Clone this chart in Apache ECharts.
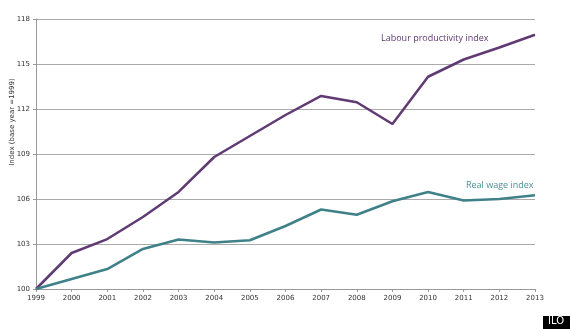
<!DOCTYPE html>
<html><head><meta charset="utf-8">
<script src="https://cdn.jsdelivr.net/npm/echarts@6/dist/echarts.min.js"></script>
<style>html,body{margin:0;padding:0;background:#fff}#c{width:570px;height:329px}</style>
</head><body><div id="c"></div>
<script>
const years = ['1999','2000','2001','2002','2003','2004','2005','2006','2007','2008','2009','2010','2011','2012','2013'];
const labourProductivity = [100, 102.4, 103.33, 104.8, 106.47, 108.8, 110.2, 111.6, 112.87, 112.45, 111.0, 114.15, 115.3, 116.1, 116.95];
const realWage = [100, 100.67, 101.33, 102.67, 103.3, 103.1, 103.25, 104.2, 105.3, 104.95, 105.85, 106.47, 105.9, 106.0, 106.25];
const yTicks = [100, 103, 106, 109, 112, 115, 118];
const yAxisTitle = 'Index (base year =1999)';

const chart = echarts.init(document.getElementById('c'), null, {renderer:'canvas'});
chart.setOption({
  animation:false,
  backgroundColor:'#fff',
  grid:{left:36,right:35,top:19,bottom:40,containLabel:false,outerBoundsMode:'none'},
  xAxis:{type:'category',data:years,boundaryGap:false,
    axisLine:{lineStyle:{color:'#999',width:1}},
    axisTick:{show:true,alignWithLabel:true,length:3,lineStyle:{color:'#999'}},
    axisLabel:{color:'#333',fontSize:7,fontFamily:'DejaVu Sans',margin:6}},
  yAxis:{type:'value',min:yTicks[0],max:yTicks[yTicks.length-1],interval:3,
    axisLine:{show:true,lineStyle:{color:'#999'}},
    axisTick:{show:true,length:3,lineStyle:{color:'#999'}},
    splitLine:{lineStyle:{color:'#aaa',width:1}},
    axisLabel:{color:'#333',fontSize:7,fontFamily:'DejaVu Sans',margin:6}},
  series:[
    {name:'Labour productivity index',type:'line',data:labourProductivity,symbol:'none',
     lineStyle:{color:'#5f3a73',width:2.5},itemStyle:{color:'#5f3a73'}},
    {name:'Real wage index',type:'line',data:realWage,symbol:'none',
     lineStyle:{color:'#3f8189',width:2.5},itemStyle:{color:'#3f8189'}}
  ],
  graphic:[
    {type:'text',x:12,y:122,rotation:Math.PI/2,style:{text:yAxisTitle,fill:'#333',font:'7px "DejaVu Sans"',align:'center',verticalAlign:'middle'}},
    {type:'text',left:381,top:34,style:{text:'Labour productivity index',fill:'#5f3a73',font:'9px "Open Sans"'}},
    {type:'text',left:466,top:181,style:{text:'Real wage index',fill:'#4a8f98',font:'9px "Open Sans"'}},
    {type:'rect',shape:{x:543,y:316,width:27,height:13},style:{fill:'#000'}},
    {type:'text',left:548,top:316,style:{text:'ILO',fill:'#fff',font:'10px "DejaVu Sans"'}}
  ]
});
</script></body></html>
